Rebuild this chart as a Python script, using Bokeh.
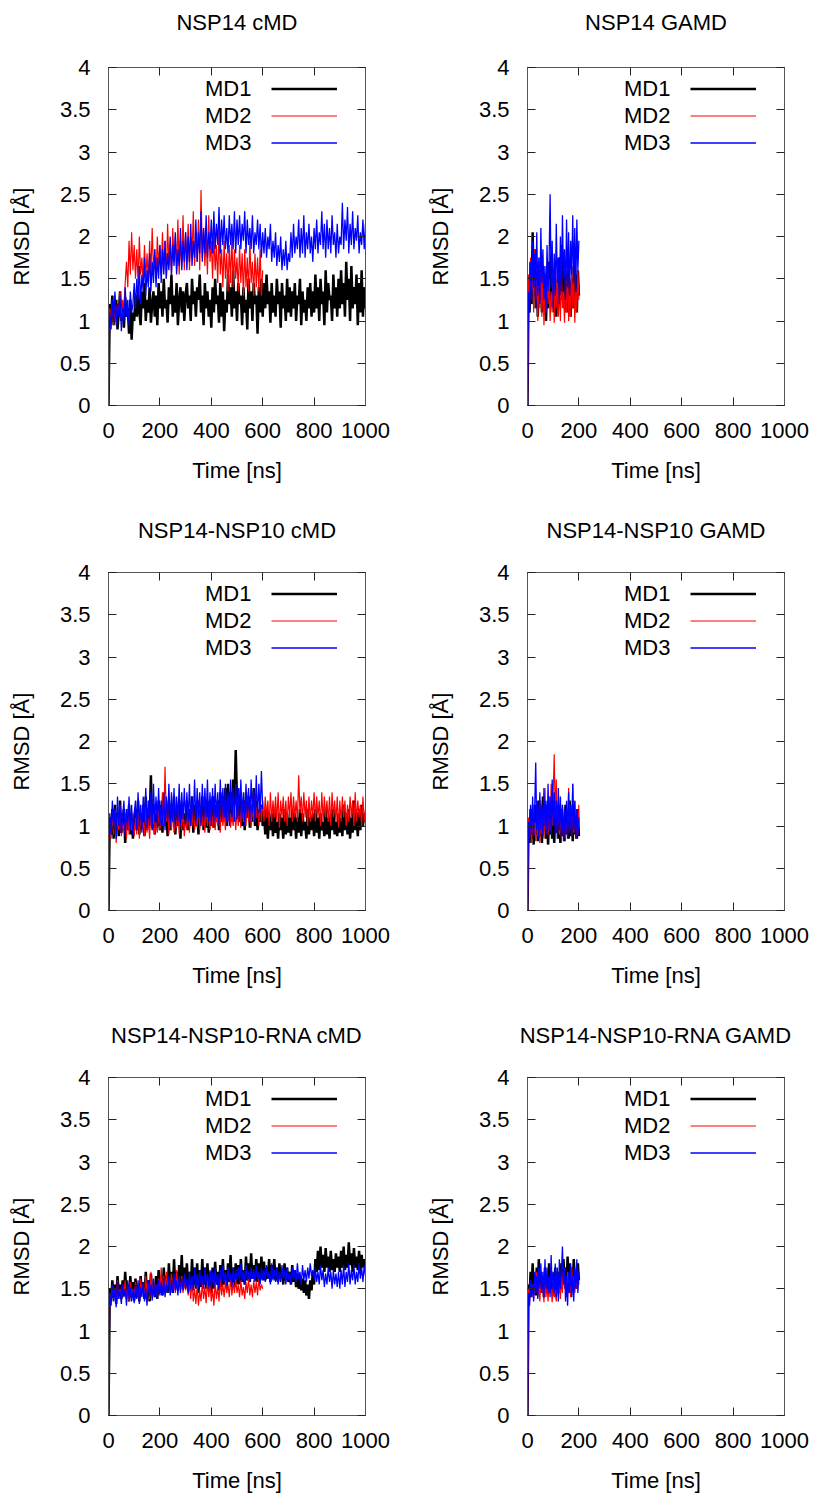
import numpy as np
from bokeh.plotting import figure
from bokeh.layouts import column, row
from bokeh.models import (Range1d, FixedTicker, LinearAxis, Legend,
                          LegendItem, CustomJSTickFormatter)
from bokeh.embed import file_html
from bokeh.resources import INLINE

FONT = "Liberation Sans"
FS = "22px"

# ---------------- data (RMSD in Angstrom) ----------------
titles = ["NSP14 cMD", "NSP14 GAMD", "NSP14-NSP10 cMD", "NSP14-NSP10 GAMD",
          "NSP14-NSP10-RNA cMD", "NSP14-NSP10-RNA GAMD"]
series_names = ["MD1", "MD2", "MD3"]
x_ticks = [0, 200, 400, 600, 800, 1000]
y_ticks = [0, 0.5, 1, 1.5, 2, 2.5, 3, 3.5, 4]
cmd_step_ns = 5
gamd_step_ns = 4

# NSP14 cMD
nsp14_cmd_md1 = [0.0,
    1.20, 1.05, 1.30, 0.95, 1.15, 1.25, 0.90, 1.10, 1.35, 1.00, 1.20, 0.92, 1.28, 1.05, 1.15, 0.85, 1.25, 0.78, 1.10, 1.00,
    1.30, 1.05, 1.40, 1.10, 0.95, 1.35, 1.15, 1.45, 1.00, 1.25, 1.10, 1.40, 0.98, 1.20, 1.35, 1.05, 1.30, 0.95, 1.45, 1.15,
    1.35, 1.05, 1.50, 1.15, 1.25, 0.98, 1.40, 1.20, 1.55, 1.05, 1.30, 1.10, 1.45, 0.95, 1.25, 1.40, 1.10, 1.35, 1.00, 1.30,
    1.45, 1.15, 1.30, 1.00, 1.50, 1.20, 1.35, 1.05, 1.40, 1.25, 1.55, 1.10, 1.30, 0.95, 1.45, 1.15, 1.35, 1.05, 1.25, 0.92,
    1.40, 1.10, 1.50, 1.20, 1.30, 0.98, 1.45, 1.05, 1.35, 0.88, 1.25, 1.10, 1.55, 1.20, 1.40, 1.05, 1.60, 1.15, 1.35, 1.00,
    1.45, 1.20, 1.30, 0.95, 1.40, 1.10, 1.25, 0.90, 1.50, 1.15, 1.35, 1.00, 1.45, 1.20, 1.30, 0.85, 1.40, 1.10, 1.50, 1.05,
    1.45, 1.15, 1.55, 1.20, 1.35, 0.98, 1.45, 1.10, 1.30, 1.05, 1.50, 1.20, 1.35, 0.92, 1.45, 1.15, 1.30, 1.00, 1.50, 1.10,
    1.40, 1.05, 1.35, 1.15, 1.45, 1.00, 1.30, 1.20, 1.50, 0.95, 1.35, 1.10, 1.25, 1.00, 1.40, 1.15, 1.45, 1.05, 1.35, 1.10,
    1.55, 1.15, 1.40, 1.00, 1.50, 1.20, 1.35, 0.95, 1.60, 1.10, 1.45, 1.25, 1.30, 1.00, 1.55, 1.15, 1.40, 1.05, 1.50, 1.15,
    1.60, 1.20, 1.45, 1.05, 1.70, 1.25, 1.50, 1.00, 1.65, 1.15, 1.40, 1.20, 1.55, 0.95, 1.45, 1.10, 1.60, 1.05, 1.40, 1.15]
nsp14_cmd_md2 = [0.0,
    1.15, 1.00, 1.25, 0.95, 1.30, 1.05, 1.20, 1.10, 1.35, 1.00, 1.25, 1.15, 1.45, 1.70, 1.40, 1.95, 1.55, 2.05, 1.60, 1.90,
    1.50, 1.85, 1.45, 2.00, 1.55, 1.75, 1.40, 1.90, 1.50, 1.80, 1.45, 1.95, 1.55, 2.10, 1.60, 1.85, 1.50, 2.00, 1.65, 1.90,
    1.55, 2.05, 1.60, 1.95, 1.50, 2.15, 1.65, 1.90, 1.55, 2.10, 1.70, 2.00, 1.60, 2.20, 1.55, 1.95, 1.65, 2.25, 1.60, 2.05,
    1.70, 2.15, 1.60, 2.00, 1.75, 2.30, 1.65, 2.05, 1.70, 2.20, 1.60, 2.55, 1.75, 2.10, 1.65, 2.00, 1.55, 2.25, 1.70, 1.95,
    1.50, 2.05, 1.60, 1.90, 1.45, 2.10, 1.55, 1.85, 1.40, 1.95, 1.50, 1.80, 1.35, 1.90, 1.45, 2.00, 1.40, 1.85, 1.50, 1.75,
    1.35, 1.90, 1.45, 1.80, 1.30, 1.85, 1.40, 1.75, 1.35, 1.95, 1.45, 1.70, 1.30, 1.80, 1.40, 1.75, 1.35, 1.85, 1.30, 1.60]
nsp14_cmd_md3 = [0.0,
    1.10, 0.90, 1.25, 1.00, 1.35, 0.95, 1.20, 1.05, 1.30, 0.88, 1.15, 1.00, 1.40, 1.05, 1.25, 0.95, 1.35, 1.10, 1.20, 1.45,
    1.15, 1.50, 1.25, 1.65, 1.20, 1.55, 1.35, 1.75, 1.30, 1.60, 1.40, 1.80, 1.35, 1.70, 1.45, 1.85, 1.40, 1.75, 1.50, 1.90,
    1.45, 1.85, 1.55, 1.95, 1.50, 1.80, 1.60, 2.00, 1.55, 1.90, 1.65, 2.05, 1.55, 1.85, 1.65, 2.10, 1.60, 1.95, 1.70, 2.05,
    1.60, 2.00, 1.70, 2.15, 1.65, 1.95, 1.75, 2.20, 1.70, 2.05, 1.80, 2.30, 1.70, 2.10, 1.80, 2.25, 1.75, 2.05, 1.85, 2.20,
    1.80, 2.30, 1.85, 2.15, 1.90, 2.35, 1.80, 2.20, 1.90, 2.25, 1.85, 2.10, 1.80, 2.25, 1.90, 2.15, 1.85, 2.30, 1.80, 2.20,
    1.90, 2.25, 1.85, 2.15, 1.95, 2.30, 1.80, 2.20, 1.90, 2.10, 1.85, 2.25, 1.80, 2.05, 1.90, 2.20, 1.85, 2.15, 1.75, 2.05,
    1.80, 2.10, 1.75, 2.00, 1.85, 2.15, 1.70, 1.95, 1.75, 2.05, 1.65, 1.90, 1.70, 2.00, 1.60, 1.85, 1.65, 1.95, 1.60, 1.80,
    1.70, 2.05, 1.75, 2.15, 1.80, 2.00, 1.85, 2.20, 1.75, 2.10, 1.80, 2.25, 1.75, 2.05, 1.85, 2.15, 1.80, 2.00, 1.70, 2.10,
    1.85, 2.20, 1.80, 2.05, 1.90, 2.30, 1.85, 2.15, 1.75, 2.20, 1.85, 2.10, 1.80, 2.25, 1.90, 2.05, 1.75, 2.15, 1.80, 2.00,
    1.90, 2.40, 1.85, 2.20, 1.95, 2.35, 1.80, 2.15, 1.90, 2.30, 1.85, 2.10, 1.95, 2.25, 1.80, 2.05, 1.90, 2.20, 1.85, 2.15]

# NSP14 GAMD
nsp14_gamd_md1 = [0.0,
    1.40, 1.10, 1.70, 1.20, 2.05, 1.30, 1.85, 1.15, 1.60, 1.05,
    1.50, 1.25, 1.75, 1.10, 1.65, 1.20, 1.55, 1.00, 1.45, 1.15,
    1.70, 1.25, 1.80, 1.30, 1.60, 1.10, 1.50, 1.05, 1.40, 1.20,
    1.75, 1.30, 1.90, 1.25, 1.70, 1.15, 1.55, 1.10, 1.60, 1.20,
    1.45, 1.05, 1.50, 1.15, 1.65, 1.25, 1.55, 1.10, 1.60, 1.30]
nsp14_gamd_md2 = [0.0,
    1.55, 1.20, 1.75, 1.35, 1.60, 1.10, 1.85, 1.25, 1.50, 1.00,
    1.45, 1.15, 1.70, 1.05, 1.55, 0.95, 1.40, 1.10, 1.65, 1.20,
    1.50, 1.00, 1.35, 1.10, 1.55, 0.98, 1.45, 1.15, 1.60, 1.05,
    1.40, 1.00, 1.55, 1.15, 1.35, 0.98, 1.50, 1.10, 1.60, 1.00,
    1.45, 1.05, 1.65, 1.15, 1.55, 0.98, 1.40, 1.10, 1.60, 1.25]
nsp14_gamd_md3 = [0.0,
    1.35, 1.10, 1.70, 1.25, 1.95, 1.40, 1.80, 1.15, 2.05, 1.30,
    1.75, 1.20, 2.10, 1.45, 1.85, 1.25, 1.65, 1.10, 1.90, 1.35,
    1.70, 2.50, 1.40, 1.95, 1.15, 1.80, 1.30, 2.15, 1.45, 1.75,
    1.20, 2.00, 1.35, 2.25, 1.50, 1.85, 1.25, 2.20, 1.40, 2.05,
    1.30, 1.95, 1.55, 2.25, 1.45, 2.10, 1.35, 2.20, 1.60, 1.95]

# NSP14-NSP10 cMD
nsp14_nsp10_cmd_md1 = [0.0,
    1.10, 0.90, 1.20, 0.85, 1.25, 0.95, 1.15, 0.88, 1.30, 0.92, 1.05, 1.20, 0.80, 1.15, 0.95, 1.25, 0.90, 1.10, 0.85, 1.05,
    1.20, 0.95, 1.30, 0.90, 1.15, 1.00, 1.25, 0.88, 1.35, 0.95, 1.20, 1.05, 1.60, 0.98, 1.25, 0.90, 1.15, 1.00, 1.30, 0.95,
    1.25, 0.92, 1.35, 1.00, 1.20, 0.88, 1.30, 0.95, 1.25, 1.05, 1.35, 0.90, 1.20, 1.00, 1.30, 0.85, 1.25, 0.95, 1.15, 1.00,
    1.30, 0.95, 1.20, 1.05, 1.35, 0.92, 1.25, 1.00, 1.30, 0.90, 1.20, 1.05, 1.35, 0.95, 1.25, 0.98, 1.30, 0.92, 1.20, 1.00,
    1.35, 0.98, 1.25, 1.05, 1.30, 0.95, 1.40, 1.05, 1.35, 1.10, 1.45, 1.00, 1.50, 1.15, 1.40, 1.05, 1.55, 1.25, 1.90, 1.30,
    1.45, 1.05, 1.35, 1.00, 1.30, 0.95, 1.40, 1.10, 1.35, 0.98, 1.25, 1.05, 1.45, 1.00, 1.30, 0.95, 1.20, 1.05, 1.25, 1.00,
    1.15, 0.90, 1.20, 0.85, 1.10, 0.95, 1.15, 0.88, 1.20, 0.92, 1.05, 0.85, 1.15, 0.95, 1.10, 0.85, 1.20, 0.90, 1.15, 0.92,
    1.10, 0.88, 1.20, 0.95, 1.15, 0.85, 1.10, 0.92, 1.20, 0.88, 1.15, 0.95, 1.05, 0.85, 1.20, 0.90, 1.10, 0.95, 1.15, 0.88,
    1.20, 0.92, 1.10, 0.85, 1.15, 0.95, 1.05, 0.88, 1.20, 0.90, 1.10, 0.85, 1.15, 0.95, 1.20, 0.90, 1.05, 0.88, 1.15, 0.92,
    1.10, 0.88, 1.25, 0.95, 1.15, 0.90, 1.20, 0.85, 1.10, 0.92, 1.30, 0.95, 1.15, 0.88, 1.20, 0.95, 1.25, 1.00, 1.15, 1.05]
nsp14_nsp10_cmd_md2 = [0.0,
    1.05, 0.85, 1.15, 0.90, 1.20, 0.80, 1.10, 0.95, 1.25, 0.88, 1.05, 0.92, 1.15, 0.85, 1.20, 0.90, 1.10, 0.95, 1.15, 0.88,
    1.10, 0.90, 1.20, 0.85, 1.15, 0.95, 1.05, 0.88, 1.25, 0.92, 1.10, 0.85, 1.20, 0.95, 1.15, 0.90, 1.05, 0.92, 1.20, 0.95,
    1.10, 1.40, 1.00, 1.70, 1.05, 1.25, 0.90, 1.15, 0.95, 1.20, 0.92, 1.10, 0.98, 1.25, 0.90, 1.15, 0.95, 1.20, 0.88, 1.10,
    0.95, 1.20, 0.92, 1.15, 1.00, 1.25, 0.95, 1.10, 0.98, 1.30, 0.95, 1.15, 1.00, 1.20, 0.92, 1.25, 1.00, 1.15, 0.95, 1.20,
    0.98, 1.25, 0.95, 1.15, 1.00, 1.20, 0.92, 1.30, 1.00, 1.15, 0.95, 1.25, 1.05, 1.20, 0.98, 1.15, 1.00, 1.25, 0.95, 1.20,
    1.00, 1.25, 0.98, 1.30, 1.05, 1.20, 1.00, 1.35, 1.05, 1.25, 0.98, 1.30, 1.05, 1.35, 1.10, 1.25, 1.00, 1.35, 1.05, 1.30,
    1.05, 1.35, 1.10, 1.30, 1.00, 1.40, 1.05, 1.30, 1.10, 1.35, 1.05, 1.40, 0.98, 1.30, 1.10, 1.35, 1.05, 1.30, 1.00, 1.35,
    1.10, 1.40, 1.05, 1.35, 1.10, 1.30, 1.05, 1.60, 1.15, 1.35, 1.05, 1.40, 1.10, 1.30, 1.00, 1.35, 1.05, 1.30, 1.10, 1.40,
    1.05, 1.35, 1.10, 1.30, 1.00, 1.40, 1.05, 1.35, 1.10, 1.30, 1.05, 1.35, 1.00, 1.40, 1.10, 1.30, 1.05, 1.35, 0.98, 1.30,
    1.05, 1.35, 1.10, 1.30, 1.00, 1.25, 1.05, 1.35, 1.10, 1.30, 1.00, 1.40, 1.05, 1.30, 1.10, 1.25, 1.00, 1.35, 1.05, 1.20]
nsp14_nsp10_cmd_md3 = [0.0,
    1.15, 0.90, 1.30, 0.95, 1.20, 0.85, 1.35, 1.00, 1.25, 0.92, 1.10, 1.30, 0.88, 1.20, 1.00, 1.35, 0.95, 1.25, 0.90, 1.15,
    1.30, 0.95, 1.40, 1.00, 1.25, 0.92, 1.35, 1.05, 1.45, 0.98, 1.30, 1.00, 1.40, 0.95, 1.50, 1.05, 1.35, 0.98, 1.45, 1.00,
    1.30, 1.00, 1.40, 0.95, 1.35, 1.05, 1.50, 1.00, 1.40, 1.05, 1.45, 0.98, 1.35, 1.05, 1.50, 1.00, 1.40, 1.08, 1.45, 1.02,
    1.40, 1.05, 1.50, 1.00, 1.35, 1.08, 1.55, 1.02, 1.45, 1.10, 1.40, 1.00, 1.50, 1.05, 1.45, 1.10, 1.55, 1.05, 1.40, 1.00,
    1.45, 1.05, 1.50, 1.10, 1.40, 1.02, 1.55, 1.08, 1.45, 1.10, 1.50, 1.05, 1.40, 1.00, 1.55, 1.10, 1.45, 1.05, 1.50, 1.08,
    1.45, 1.05, 1.55, 1.10, 1.40, 1.00, 1.50, 1.10, 1.45, 1.05, 1.55, 1.15, 1.45, 1.05, 1.60, 1.10, 1.50, 1.15, 1.65, 1.20]

# NSP14-NSP10 GAMD
nsp14_nsp10_gamd_md1 = [0.0,
    1.05, 0.80, 1.20, 0.85, 1.15, 0.78, 1.25, 0.90, 1.10, 0.82,
    1.30, 0.88, 1.20, 0.80, 1.35, 0.95, 1.15, 0.85, 1.25, 0.78,
    1.10, 0.90, 1.30, 0.85, 1.20, 0.80, 1.15, 0.92, 1.25, 0.85,
    1.10, 0.80, 1.20, 0.88, 1.05, 0.82, 1.25, 0.90, 1.15, 0.85,
    1.30, 0.88, 1.20, 0.82, 1.25, 0.90, 1.10, 0.85, 1.20, 0.88]
nsp14_nsp10_gamd_md2 = [0.0,
    1.10, 0.85, 1.20, 0.80, 1.15, 0.90, 1.05, 0.82, 1.25, 0.88,
    1.15, 0.80, 1.30, 0.90, 1.20, 0.85, 1.45, 0.95, 1.25, 0.90,
    1.35, 0.95, 1.50, 1.00, 1.40, 1.85, 1.10, 1.55, 0.95, 1.30,
    0.90, 1.20, 0.85, 1.25, 0.92, 1.15, 0.85, 1.20, 0.90, 1.45,
    0.95, 1.25, 0.88, 1.50, 0.92, 1.30, 0.85, 1.20, 0.90, 1.25]
nsp14_nsp10_gamd_md3 = [0.0,
    1.05, 0.85, 1.25, 0.90, 1.35, 0.88, 1.20, 1.75, 0.95, 1.30,
    0.85, 1.40, 0.95, 1.25, 0.88, 1.45, 1.00, 1.30, 0.90, 1.50,
    0.95, 1.35, 0.90, 1.55, 1.00, 1.40, 0.92, 1.30, 0.85, 1.45,
    0.95, 1.35, 0.88, 1.25, 0.82, 1.20, 0.90, 1.30, 0.85, 1.40,
    0.92, 1.25, 0.88, 1.50, 0.95, 1.30, 0.85, 1.20, 0.90, 1.10]

# NSP14-NSP10-RNA cMD
nsp14_nsp10_rna_cmd_md1 = [0.0,
    1.50, 1.35, 1.60, 1.40, 1.55, 1.32, 1.65, 1.45, 1.55, 1.38, 1.60, 1.42, 1.70, 1.45, 1.55, 1.35, 1.65, 1.40, 1.58, 1.36,
    1.62, 1.40, 1.55, 1.35, 1.65, 1.45, 1.58, 1.38, 1.70, 1.42, 1.60, 1.35, 1.68, 1.45, 1.55, 1.40, 1.65, 1.38, 1.72, 1.45,
    1.60, 1.42, 1.75, 1.48, 1.65, 1.45, 1.80, 1.50, 1.70, 1.45, 1.85, 1.52, 1.70, 1.48, 1.78, 1.55, 1.90, 1.50, 1.75, 1.52,
    1.80, 1.50, 1.70, 1.48, 1.85, 1.55, 1.75, 1.50, 1.80, 1.45, 1.72, 1.52, 1.85, 1.55, 1.75, 1.50, 1.80, 1.48, 1.70, 1.45,
    1.75, 1.50, 1.82, 1.55, 1.70, 1.48, 1.78, 1.52, 1.85, 1.55, 1.72, 1.50, 1.80, 1.58, 1.90, 1.55, 1.75, 1.52, 1.80, 1.55,
    1.78, 1.55, 1.85, 1.58, 1.72, 1.55, 1.88, 1.60, 1.80, 1.58, 1.92, 1.62, 1.78, 1.60, 1.85, 1.58, 1.80, 1.62, 1.88, 1.60,
    1.82, 1.60, 1.75, 1.62, 1.85, 1.58, 1.78, 1.62, 1.85, 1.60, 1.75, 1.58, 1.80, 1.62, 1.72, 1.55, 1.80, 1.60, 1.75, 1.58,
    1.70, 1.55, 1.78, 1.58, 1.72, 1.52, 1.68, 1.50, 1.65, 1.48, 1.62, 1.45, 1.60, 1.42, 1.55, 1.38, 1.60, 1.48, 1.70, 1.55,
    1.85, 1.70, 1.95, 1.72, 2.00, 1.75, 1.90, 1.70, 1.98, 1.75, 1.88, 1.70, 1.95, 1.72, 1.85, 1.70, 1.92, 1.75, 1.88, 1.70,
    1.95, 1.75, 2.00, 1.72, 1.90, 1.75, 2.05, 1.78, 1.92, 1.70, 1.98, 1.75, 1.88, 1.72, 1.95, 1.68, 1.90, 1.75, 1.85, 1.72]
nsp14_nsp10_rna_cmd_md2 = [0.0,
    1.45, 1.35, 1.55, 1.40, 1.50, 1.32, 1.60, 1.38, 1.50, 1.35, 1.55, 1.42, 1.60, 1.38, 1.52, 1.35, 1.58, 1.40, 1.50, 1.36,
    1.58, 1.40, 1.52, 1.38, 1.62, 1.45, 1.55, 1.40, 1.65, 1.42, 1.58, 1.38, 1.70, 1.45, 1.60, 1.42, 1.55, 1.40, 1.62, 1.45,
    1.75, 1.48, 1.65, 1.45, 1.70, 1.50, 1.62, 1.45, 1.68, 1.48, 1.60, 1.45, 1.72, 1.50, 1.62, 1.48, 1.65, 1.45, 1.60, 1.48,
    1.58, 1.42, 1.55, 1.38, 1.60, 1.35, 1.50, 1.32, 1.55, 1.30, 1.48, 1.35, 1.58, 1.38, 1.52, 1.33, 1.60, 1.40, 1.55, 1.35,
    1.50, 1.30, 1.58, 1.38, 1.52, 1.35, 1.62, 1.42, 1.55, 1.40, 1.60, 1.45, 1.55, 1.40, 1.65, 1.42, 1.58, 1.45, 1.62, 1.45,
    1.55, 1.40, 1.60, 1.42, 1.52, 1.38, 1.58, 1.45, 1.62, 1.42, 1.55, 1.40, 1.60, 1.45, 1.58, 1.42, 1.62, 1.48, 1.55, 1.50]
nsp14_nsp10_rna_cmd_md3 = [0.0,
    1.45, 1.30, 1.55, 1.35, 1.50, 1.28, 1.58, 1.38, 1.48, 1.32, 1.55, 1.40, 1.50, 1.30, 1.60, 1.38, 1.52, 1.35, 1.48, 1.33,
    1.55, 1.38, 1.60, 1.32, 1.52, 1.40, 1.58, 1.35, 1.50, 1.30, 1.60, 1.42, 1.55, 1.36, 1.62, 1.40, 1.55, 1.38, 1.60, 1.42,
    1.58, 1.42, 1.62, 1.40, 1.55, 1.45, 1.65, 1.42, 1.60, 1.45, 1.68, 1.48, 1.60, 1.42, 1.65, 1.45, 1.62, 1.48, 1.68, 1.50,
    1.62, 1.45, 1.70, 1.50, 1.65, 1.48, 1.75, 1.52, 1.68, 1.50, 1.72, 1.55, 1.65, 1.50, 1.75, 1.55, 1.68, 1.52, 1.72, 1.50,
    1.70, 1.52, 1.75, 1.55, 1.68, 1.50, 1.72, 1.55, 1.78, 1.58, 1.70, 1.55, 1.75, 1.58, 1.68, 1.52, 1.75, 1.58, 1.72, 1.60,
    1.75, 1.58, 1.80, 1.60, 1.72, 1.55, 1.78, 1.60, 1.70, 1.58, 1.75, 1.62, 1.72, 1.58, 1.78, 1.60, 1.70, 1.55, 1.75, 1.60,
    1.72, 1.58, 1.78, 1.62, 1.70, 1.55, 1.80, 1.60, 1.72, 1.58, 1.75, 1.55, 1.70, 1.58, 1.78, 1.62, 1.72, 1.55, 1.75, 1.60,
    1.70, 1.55, 1.75, 1.60, 1.72, 1.58, 1.80, 1.62, 1.70, 1.55, 1.78, 1.60, 1.72, 1.58, 1.75, 1.62, 1.80, 1.65, 1.72, 1.60,
    1.75, 1.58, 1.70, 1.55, 1.78, 1.60, 1.72, 1.52, 1.68, 1.55, 1.75, 1.58, 1.70, 1.50, 1.72, 1.55, 1.68, 1.52, 1.70, 1.50,
    1.72, 1.55, 1.78, 1.52, 1.70, 1.58, 1.80, 1.55, 1.72, 1.60, 1.78, 1.55, 1.70, 1.58, 1.80, 1.62, 1.75, 1.58, 1.78, 1.65]

# NSP14-NSP10-RNA GAMD
nsp14_nsp10_rna_gamd_md1 = [0.0,
    1.55, 1.40, 1.70, 1.45, 1.80, 1.50, 1.65, 1.42, 1.75, 1.48,
    1.85, 1.55, 1.70, 1.45, 1.60, 1.40, 1.75, 1.50, 1.65, 1.45,
    1.80, 1.55, 1.70, 1.45, 1.65, 1.42, 1.75, 1.50, 1.60, 1.45,
    1.70, 1.48, 1.80, 1.55, 1.85, 1.60, 1.75, 1.50, 1.88, 1.55,
    1.80, 1.50, 1.75, 1.55, 1.85, 1.60, 1.70, 1.50, 1.80, 1.60]
nsp14_nsp10_rna_gamd_md2 = [0.0,
    1.50, 1.35, 1.60, 1.40, 1.55, 1.38, 1.65, 1.45, 1.70, 1.40,
    1.55, 1.35, 1.60, 1.45, 1.50, 1.34, 1.65, 1.40, 1.55, 1.35,
    1.60, 1.45, 1.50, 1.34, 1.55, 1.40, 1.45, 1.35, 1.60, 1.42,
    1.55, 1.38, 1.65, 1.45, 1.75, 1.50, 1.60, 1.40, 1.70, 1.45,
    1.55, 1.40, 1.75, 1.50, 1.65, 1.45, 1.60, 1.50, 1.70, 1.55]
nsp14_nsp10_rna_gamd_md3 = [0.0,
    1.45, 1.30, 1.60, 1.40, 1.55, 1.35, 1.70, 1.45, 1.65, 1.38,
    1.75, 1.50, 1.80, 1.45, 1.70, 1.40, 1.85, 1.50, 1.75, 1.45,
    1.65, 1.40, 1.90, 1.50, 1.70, 1.45, 1.80, 1.40, 1.75, 1.35,
    1.85, 1.50, 1.70, 2.00, 1.55, 1.75, 1.35, 1.65, 1.30, 1.70,
    1.45, 1.80, 1.40, 1.65, 1.35, 1.75, 1.50, 1.85, 1.45, 1.70]

# ---------------- styling ----------------
colors = ["#000000", "#ff0000", "#0000ff"]
line_widths = [2.5, 1.2, 1.3]
FRAME = "#555555"


def make_panel(title, step, datasets, col, row_idx):
    if col == 0:
        width, mb_left, mb_right = 419, 108, 54
    else:
        width, mb_left, mb_right = 396, 108, 31
    if row_idx == 0:
        height, mb_top, mb_bottom, title_so = 513, 67, 108, 33
    elif row_idx == 1:
        height, mb_top, mb_bottom, title_so = 505, 59, 108, 30
    else:
        height, mb_top, mb_bottom, title_so = 477, 59, 80, 30

    p = figure(width=width, height=height, title=None,
               x_range=Range1d(0, 1000), y_range=Range1d(0, 4),
               output_backend="svg", toolbar_location=None,
               min_border_left=mb_left, min_border_right=mb_right,
               min_border_top=mb_top, min_border_bottom=mb_bottom)
    p.xgrid.visible = False
    p.ygrid.visible = False
    p.outline_line_color = FRAME
    p.outline_line_width = 1
    p.background_fill_color = "white"
    p.border_fill_color = "white"

    xt = FixedTicker(ticks=x_ticks)
    yt = FixedTicker(ticks=y_ticks)

    xa = p.below[0]
    ya = p.left[0]
    for ax in (xa, ya):
        ax.major_tick_in = 8
        ax.major_tick_out = 0
        ax.minor_tick_line_color = None
        ax.axis_line_color = FRAME
        ax.major_tick_line_color = "#222222"
        ax.major_label_text_font = FONT
        ax.major_label_text_font_size = FS
        ax.major_label_text_color = "black"
        ax.axis_label_text_font = FONT
        ax.axis_label_text_font_size = FS
        ax.axis_label_text_font_style = "normal"
        ax.axis_label_text_color = "black"
    xa.ticker = xt
    ya.ticker = yt
    ya.formatter = CustomJSTickFormatter(code="return String(tick);")
    xa.axis_label = "Time [ns]"
    ya.axis_label = "RMSD [Å]"
    xa.major_label_standoff = 17
    xa.axis_label_standoff = 17
    ya.major_label_standoff = 18
    ya.axis_label_standoff = 23

    # top axis: mirrored ticks, its axis label carries the panel title
    top = LinearAxis(ticker=xt, major_label_text_font_size="1px",
                     major_label_text_color=None,
                     major_tick_in=8, major_tick_out=0, major_label_standoff=0,
                     minor_tick_line_color=None, axis_line_color=FRAME,
                     major_tick_line_color="#222222",
                     axis_label=title, axis_label_standoff=title_so,
                     axis_label_text_font=FONT, axis_label_text_font_size=FS,
                     axis_label_text_font_style="normal",
                     axis_label_text_color="black")
    right = LinearAxis(ticker=yt, major_label_text_font_size="1px",
                       major_label_text_color=None,
                       major_tick_in=8, major_tick_out=0, major_label_standoff=0,
                       minor_tick_line_color=None, axis_line_color=FRAME,
                       major_tick_line_color="#222222")
    p.add_layout(top, "above")
    p.add_layout(right, "right")

    renderers = []
    for vals, c, lw in zip(datasets, colors, line_widths):
        t = np.arange(len(vals)) * step
        r = p.line(t, vals, line_color=c, line_width=lw)
        renderers.append(r)

    # legend: labels (text) then line samples, gnuplot style
    lab_leg = Legend(items=[LegendItem(label=n, renderers=[r])
                            for n, r in zip(series_names, renderers)],
                     location=(97, 249), glyph_width=0, glyph_height=27,
                     label_height=27, label_standoff=0, spacing=0,
                     padding=0, margin=0, border_line_alpha=0,
                     background_fill_alpha=0, label_text_font=FONT,
                     label_text_font_size=FS, label_text_color="black")
    line_leg = Legend(items=[LegendItem(label=" ", renderers=[r])
                             for r in renderers],
                      location=(163, 249), glyph_width=66, glyph_height=27,
                      label_height=27, label_standoff=0, spacing=0,
                      padding=0, margin=0, border_line_alpha=0,
                      background_fill_alpha=0, label_text_font=FONT,
                      label_text_font_size="1px", label_text_color=None)
    p.add_layout(lab_leg)
    p.add_layout(line_leg)
    return p


p1 = make_panel(titles[0], cmd_step_ns,
                [nsp14_cmd_md1, nsp14_cmd_md2, nsp14_cmd_md3], 0, 0)
p2 = make_panel(titles[1], gamd_step_ns,
                [nsp14_gamd_md1, nsp14_gamd_md2, nsp14_gamd_md3], 1, 0)
p3 = make_panel(titles[2], cmd_step_ns,
                [nsp14_nsp10_cmd_md1, nsp14_nsp10_cmd_md2, nsp14_nsp10_cmd_md3], 0, 1)
p4 = make_panel(titles[3], gamd_step_ns,
                [nsp14_nsp10_gamd_md1, nsp14_nsp10_gamd_md2, nsp14_nsp10_gamd_md3], 1, 1)
p5 = make_panel(titles[4], cmd_step_ns,
                [nsp14_nsp10_rna_cmd_md1, nsp14_nsp10_rna_cmd_md2, nsp14_nsp10_rna_cmd_md3], 0, 2)
p6 = make_panel(titles[5], gamd_step_ns,
                [nsp14_nsp10_rna_gamd_md1, nsp14_nsp10_rna_gamd_md2, nsp14_nsp10_rna_gamd_md3], 1, 2)

layout = column(row(p1, p2), row(p3, p4), row(p5, p6))
open("out.html", "w").write(file_html(layout, INLINE))
